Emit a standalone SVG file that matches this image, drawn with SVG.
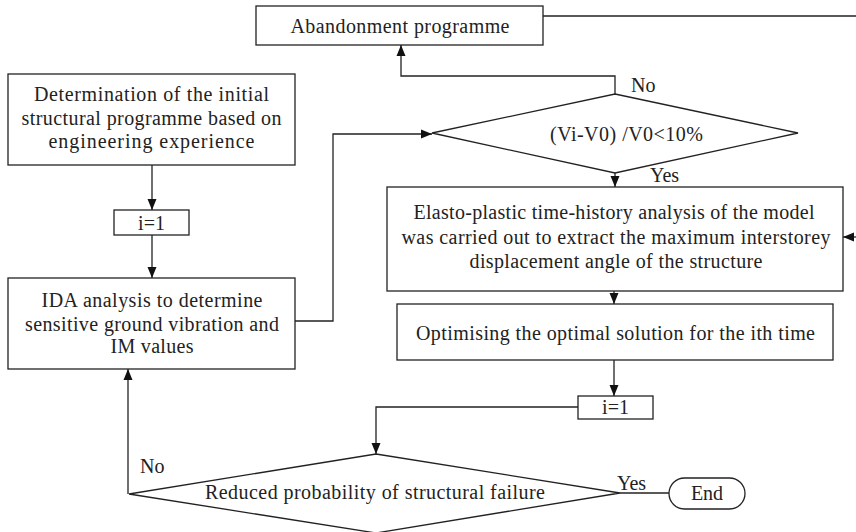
<svg xmlns="http://www.w3.org/2000/svg" width="856" height="532" viewBox="0 0 856 532">
<style>
.box{fill:#fff;stroke:#222;stroke-width:1.3}
.t{font-family:"Liberation Serif","Times New Roman",serif;font-size:20px;fill:#222;text-anchor:middle}
.lbl{font-family:"Liberation Serif","Times New Roman",serif;font-size:20px;fill:#222}
.c{fill:none;stroke:#222;stroke-width:1.3}
</style>
<defs>
<marker id="ah" markerUnits="userSpaceOnUse" markerWidth="12" markerHeight="12" viewBox="0 0 12 12" refX="11" refY="6" orient="auto">
<path d="M0,1.5 L11,6 L0,10.5 Z" fill="#111"/>
</marker>
</defs>
<rect width="856" height="532" fill="#fff"/>
<g id="connectors">
<path class="c" d="M152,165 V210" marker-end="url(#ah)"/>
<path class="c" d="M152,235 V278" marker-end="url(#ah)"/>
<path class="c" d="M295,321 H333 V134 H432" marker-end="url(#ah)"/>
<path class="c" d="M615,94 V76 H401 V45" marker-end="url(#ah)"/>
<path class="c" d="M543,16 H856"/>
<path class="c" d="M856,237 H843" marker-end="url(#ah)"/>
<path class="c" d="M615,173 V187" marker-end="url(#ah)"/>
<path class="c" d="M614,291 V304" marker-end="url(#ah)"/>
<path class="c" d="M614,360 V396" marker-end="url(#ah)"/>
<path class="c" d="M578,407 H376 V454" marker-end="url(#ah)"/>
<path class="c" d="M128,494 V369" marker-end="url(#ah)"/>
<path class="c" d="M620,493 H669"/>
<text class="lbl" x="631" y="92">No</text>
<text class="lbl" x="650" y="182">Yes</text>
<text class="lbl" x="140" y="473">No</text>
<text class="lbl" x="617" y="490">Yes</text>
</g>
<g id="abandon">
<rect class="box" x="256" y="6" width="287" height="39"/>
<text class="t" x="400" y="33" textLength="219" lengthAdjust="spacing">Abandonment programme</text>
</g>
<g id="determination">
<rect class="box" x="8" y="74" width="287" height="91"/>
<text class="t" x="151.5" y="101" textLength="235" lengthAdjust="spacing">Determination of the initial</text>
<text class="t" x="151.5" y="125" textLength="260" lengthAdjust="spacing">structural programme based on</text>
<text class="t" x="151.5" y="148" textLength="206" lengthAdjust="spacing">engineering experience</text>
</g>
<g id="i1a">
<rect class="box" x="114" y="210" width="75" height="25"/>
<text class="t" x="151.5" y="230">i=1</text>
</g>
<g id="ida">
<rect class="box" x="8" y="278" width="287" height="91"/>
<text class="t" x="152" y="307" textLength="221" lengthAdjust="spacing">IDA analysis to determine</text>
<text class="t" x="152" y="331" textLength="254" lengthAdjust="spacing">sensitive ground vibration and</text>
<text class="t" x="152" y="353" textLength="83" lengthAdjust="spacing">IM values</text>
</g>
<g id="check">
<polygon class="box" points="615,94 798,133 615,173 432,133"/>
<text class="t" x="626.5" y="141" textLength="153" lengthAdjust="spacing">(Vi-V0) /V0&lt;10%</text>
</g>
<g id="elasto">
<rect class="box" x="387" y="187" width="456" height="104"/>
<text class="t" x="614" y="219" textLength="401" lengthAdjust="spacing">Elasto-plastic time-history analysis of the model</text>
<text class="t" x="616" y="244" textLength="429" lengthAdjust="spacing">was carried out to extract the maximum interstorey</text>
<text class="t" x="616" y="268" textLength="293" lengthAdjust="spacing">displacement angle of the structure</text>
</g>
<g id="optimise">
<rect class="box" x="397" y="304" width="436" height="56"/>
<text class="t" x="615.5" y="340" textLength="399" lengthAdjust="spacing">Optimising the optimal solution for the ith time</text>
</g>
<g id="i1b">
<rect class="box" x="578" y="396" width="75" height="23"/>
<text class="t" x="615.5" y="414">i=1</text>
</g>
<g id="failure">
<polygon class="box" points="376,454 620,493 376,533 129,494"/>
<text class="t" x="375" y="499" textLength="340" lengthAdjust="spacing">Reduced probability of structural failure</text>
</g>
<g id="end">
<rect class="box" x="669" y="478" width="76" height="31" rx="15.5"/>
<text class="t" x="707" y="500">End</text>
</g>
</svg>
